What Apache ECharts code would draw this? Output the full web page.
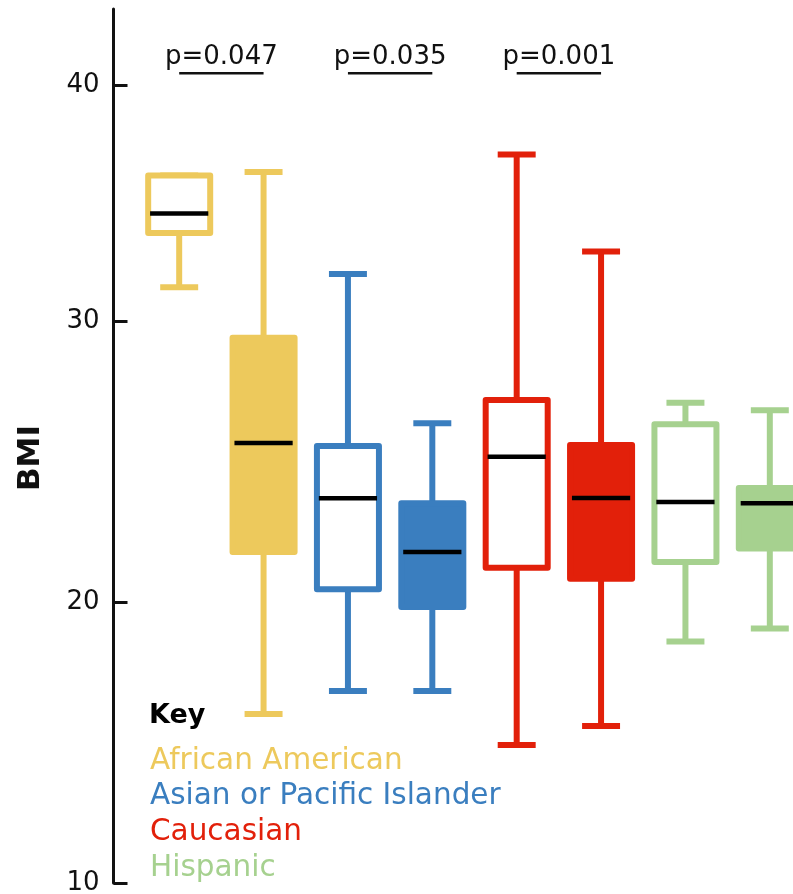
<!DOCTYPE html>
<html>
<head>
<meta charset="utf-8">
<script src="https://cdn.jsdelivr.net/npm/echarts@6/dist/echarts.min.js"></script>
<style>
  html, body { margin: 0; padding: 0; background: #fff; }
  #chart { width: 793px; height: 894px; }
</style>
</head>
<body>
<div id="chart"></div>
<script>
// Ethnic groups and their colours
const groups = ['African American', 'Asian or Pacific Islander', 'Caucasian', 'Hispanic'];
const groupColors = ['#EDC95C', '#3A7EBF', '#E2200A', '#A6D18F'];

// Two boxes per group: an open one followed by a filled one
const categories = [
  'African American (open)', 'African American (filled)',
  'Asian or Pacific Islander (open)', 'Asian or Pacific Islander (filled)',
  'Caucasian (open)', 'Caucasian (filled)',
  'Hispanic (open)', 'Hispanic (filled)'
];
const boxGroup  = [0, 0, 1, 1, 2, 2, 3, 3];
const boxFilled = [false, true, false, true, false, true, false, true];

// BMI five-number summaries
const boxMin    = [31.43, 16.01, 16.83, 16.83, 14.91, 15.59, 18.59, 19.06];
const boxQ1     = [33.73, 21.78, 20.45, 19.82, 21.22, 20.83, 21.42, 21.90];
const boxMedian = [34.56, 25.66, 23.69, 21.78, 25.17, 23.70, 23.56, 23.51];
const boxQ3     = [36.17, 29.40, 25.55, 23.51, 27.19, 25.59, 26.33, 24.06];
const boxMax    = [36.17, 36.31, 31.99, 26.36, 37.05, 32.94, 27.09, 26.82];

// Y-axis tick values
const yTicks = [10, 20, 30, 40];

// Pairwise comparisons
const pPairs  = [[0, 1], [2, 3], [4, 5]];
const pLabels = ['p=0.047', 'p=0.035', 'p=0.001'];
const pLineLevel = 40.5;

// The BMI axis is drawn in two stacked panels that meet at 30
const splitValue = 30;
const font = '"DejaVu Sans", sans-serif';
const ink = '#111';

const boxData = categories.map((c, i) => [i, boxMin[i], boxQ1[i], boxMedian[i], boxQ3[i], boxMax[i]]);
const pData = pPairs.map(([a, b]) => [a, b, pLineLevel]);

function renderBox(params, api) {
  const i = params.dataIndex;
  const color = groupColors[boxGroup[i]];
  const cx = api.coord([api.value(0), splitValue])[0];
  const y = k => api.coord([api.value(0), api.value(k)])[1];
  const yMin = y(1), yQ1 = y(2), yMed = y(3), yQ3 = y(4), yMax = y(5);
  const band = api.size([1, 0])[0];
  const boxW = band * 0.735;
  const capW = band * 0.45;
  const medW = band * 0.69;
  const lw = 6;
  const line = (x1, y1, x2, y2, stroke, width) => ({
    type: 'line',
    shape: { x1, y1, x2, y2 },
    style: { stroke, lineWidth: width, lineCap: 'butt' }
  });
  return {
    type: 'group',
    children: [
      line(cx, yQ3, cx, yMax, color, lw),
      line(cx, yQ1, cx, yMin, color, lw),
      line(cx - capW / 2, yMax, cx + capW / 2, yMax, color, lw),
      line(cx - capW / 2, yMin, cx + capW / 2, yMin, color, lw),
      {
        type: 'rect',
        shape: { x: cx - boxW / 2, y: yQ3, width: boxW, height: yQ1 - yQ3 },
        style: {
          fill: boxFilled[i] ? color : '#fff',
          stroke: color,
          lineWidth: lw,
          lineJoin: 'round'
        }
      },
      line(cx - medW / 2, yMed, cx + medW / 2, yMed, '#000', 4.5)
    ]
  };
}

function renderPValue(params, api) {
  const i = params.dataIndex;
  const level = api.value(2);
  const pa = api.coord([api.value(0), level]);
  const pb = api.coord([api.value(1), level]);
  return {
    type: 'group',
    children: [
      {
        type: 'line',
        shape: { x1: pa[0], y1: pa[1], x2: pb[0], y2: pb[1] },
        style: { stroke: ink, lineWidth: 2.5 }
      },
      {
        type: 'text',
        style: {
          text: pLabels[i],
          x: (pa[0] + pb[0]) / 2,
          y: pa[1] - 16,
          align: 'center',
          verticalAlign: 'middle',
          font: '26px ' + font,
          fill: ink
        }
      }
    ]
  };
}

function valueAxis(gridIndex, min, max, ticks) {
  return {
    type: 'value',
    gridIndex,
    min,
    max,
    position: 'left',
    offset: 23.5,
    axisLine: { show: true, onZero: false, lineStyle: { color: ink, width: 3 } },
    axisTick: { show: true, inside: true, length: 14, customValues: ticks, lineStyle: { color: ink, width: 3 } },
    axisLabel: { show: true, margin: 14, customValues: ticks, fontSize: 26, fontFamily: font, color: ink },
    splitLine: { show: false }
  };
}

const chart = echarts.init(document.getElementById('chart'), null, { renderer: 'canvas' });

const legendItems = groups.map((g, k) => ({
  type: 'text',
  x: 150,
  y: 761 + k * 35.7,
  style: { text: g, font: '29.5px ' + font, fill: groupColors[k], verticalAlign: 'middle' }
}));

chart.setOption({
  animation: false,
  backgroundColor: '#fff',
  grid: [
    { left: 137, width: 675, top: 321, height: 562, outerBoundsMode: 'none', containLabel: false },
    { left: 137, width: 675, top: 9, height: 312, outerBoundsMode: 'none', containLabel: false }
  ],
  xAxis: [
    { type: 'category', gridIndex: 0, data: categories, show: false },
    { type: 'category', gridIndex: 1, data: categories, show: false }
  ],
  yAxis: [
    valueAxis(0, 10, splitValue, yTicks.filter(v => v <= splitValue)),
    valueAxis(1, splitValue, 43.22, yTicks.filter(v => v > splitValue))
  ],
  series: [
    { type: 'custom', xAxisIndex: 0, yAxisIndex: 0, clip: true, renderItem: renderBox, data: boxData },
    { type: 'custom', xAxisIndex: 1, yAxisIndex: 1, clip: true, renderItem: renderBox, data: boxData },
    { type: 'custom', xAxisIndex: 1, yAxisIndex: 1, renderItem: renderPValue, data: pData }
  ],
  graphic: [
    {
      type: 'text',
      x: 31,
      y: 458,
      rotation: Math.PI / 2,
      style: { text: 'BMI', font: 'bold 31px ' + font, fill: ink, align: 'center', verticalAlign: 'middle' }
    },
    {
      type: 'text',
      x: 149,
      y: 716,
      style: { text: 'Key', font: 'bold 27px ' + font, fill: '#000', verticalAlign: 'middle' }
    },
    ...legendItems
  ]
});
</script>
</body>
</html>
